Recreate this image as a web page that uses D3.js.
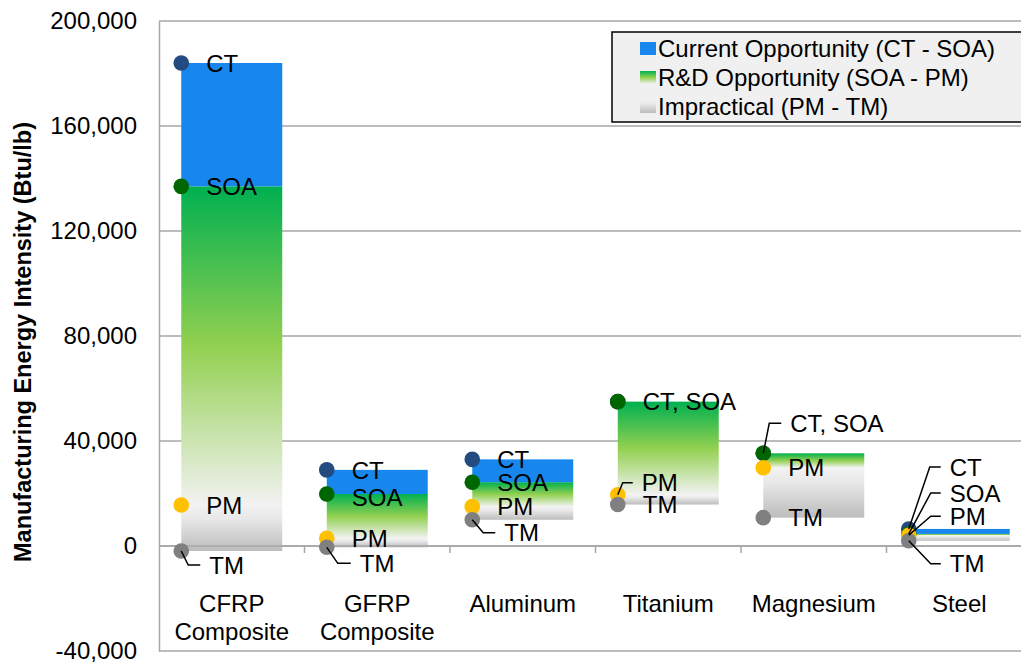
<!DOCTYPE html>
<html>
<head>
<meta charset="utf-8">
<script src="https://cdn.jsdelivr.net/npm/d3@7"></script>
<style>
  body { margin: 0; background: #fff; }
  svg text { font-family: "Liberation Sans", Arial, sans-serif; fill: #000; }
</style>
</head>
<body>
<svg id="chart" width="1021" height="665"></svg>
<script>
// data (Btu/lb)
const categories = ["CFRP Composite", "GFRP Composite", "Aluminum", "Titanium", "Magnesium", "Steel"];
const ct  = [184000, 29000, 33000, 55000, 35300, 6500];
const soa = [137000, 19800, 24300, 55000, 35300, 4600];
const pm  = [15600, 2900, 15000, 19500, 29800, 4100];
const tm  = [-1900, -500, 10000, 15800, 10800, 2000];
const yTicks = [-40000, 0, 40000, 80000, 120000, 160000, 200000];
const legendLabels = ["Current Opportunity (CT - SOA)", "R&D Opportunity (SOA - PM)", "Impractical (PM - TM)"];

// label placement, relative to each dot (px); leader = [bendX, bendY, endX]
const labelLayout = [
  [{k: "ct", t: "CT"}, {k: "soa", t: "SOA"}, {k: "pm", t: "PM"}, {k: "tm", t: "TM", leader: [7, 14, 19]}],
  [{k: "ct", t: "CT"}, {k: "soa", t: "SOA", dy: 3}, {k: "pm", t: "PM"}, {k: "tm", t: "TM", leader: [11, 16, 24]}],
  [{k: "ct", t: "CT"}, {k: "soa", t: "SOA"}, {k: "pm", t: "PM"}, {k: "tm", t: "TM", leader: [11, 13, 23]}],
  [{k: "soa", t: "CT, SOA"}, {k: "pm", t: "PM", leader: [5, -12, 15]}, {k: "tm", t: "TM"}],
  [{k: "soa", t: "CT, SOA", leader: [6, -30, 18]}, {k: "pm", t: "PM"}, {k: "tm", t: "TM"}],
  [{k: "ct", t: "CT", leader: [21, -62, 32]}, {k: "soa", t: "SOA", leader: [22, -41, 32]},
   {k: "pm", t: "PM", leader: [22, -19, 32]}, {k: "tm", t: "TM", leader: [22, 23, 32]}]
];

const series = {ct, soa, pm, tm};
const dotColor = {ct: "#244b80", soa: "#006600", pm: "#ffc000", tm: "#808080"};
const fs = 24;

const svg = d3.select("#chart");

const x = d3.scaleBand().domain(categories).range([159, 1032])
  .paddingInner(0.306).paddingOuter(0.153);
const y = d3.scaleLinear().domain([-40000, 200000]).range([651, 21]);

// gradients
const defs = svg.append("defs");
const green = defs.append("linearGradient").attr("id", "gGreen")
  .attr("x1", 0).attr("y1", 0).attr("x2", 0).attr("y2", 1);
green.append("stop").attr("offset", 0).attr("stop-color", "#00b050");
green.append("stop").attr("offset", 0.5).attr("stop-color", "#92d050");
green.append("stop").attr("offset", 1).attr("stop-color", "#f2f2f2");
const grey = defs.append("linearGradient").attr("id", "gGrey")
  .attr("x1", 0).attr("y1", 0).attr("x2", 0).attr("y2", 1);
grey.append("stop").attr("offset", 0).attr("stop-color", "#f2f2f2");
grey.append("stop").attr("offset", 0.3).attr("stop-color", "#e8e8e8");
grey.append("stop").attr("offset", 1).attr("stop-color", "#bcbcbc");

// gridlines
svg.append("g").selectAll("line").data(yTicks).join("line")
  .attr("x1", 159).attr("x2", 1032)
  .attr("y1", d => y(d)).attr("y2", d => y(d))
  .attr("stroke", "#a6a6a6").attr("stroke-width", 1.5);

// y axis (plain hyphen for negatives, like the original)
const fmt = d3.format(",");
const yAxis = svg.append("g").attr("transform", "translate(159,0)")
  .call(d3.axisLeft(y).tickValues(yTicks).tickFormat(d => fmt(d).replace("\u2212", "-"))
    .tickSize(0).tickPadding(22));
yAxis.select(".domain").attr("stroke", "#a6a6a6").attr("stroke-width", 1.5);
yAxis.selectAll("text").style("font-size", fs + "px").attr("fill", "#000");

svg.append("text")
  .attr("transform", "translate(31,342) rotate(-90)")
  .attr("text-anchor", "middle")
  .style("font-size", "23.5px").style("font-weight", "bold")
  .text("Manufacturing Energy Intensity (Btu/lb)");

// bars
const bw = x.bandwidth();
const bars = svg.append("g").selectAll("g").data(categories).join("g");
bars.append("rect").attr("x", d => x(d)).attr("width", bw)
  .attr("y", (d, i) => y(pm[i])).attr("height", (d, i) => y(tm[i]) - y(pm[i]))
  .attr("fill", "url(#gGrey)");
bars.append("rect").attr("x", d => x(d)).attr("width", bw)
  .attr("y", (d, i) => y(soa[i])).attr("height", (d, i) => y(pm[i]) - y(soa[i]))
  .attr("fill", "url(#gGreen)");
bars.append("rect").attr("x", d => x(d)).attr("width", bw)
  .attr("y", (d, i) => y(ct[i])).attr("height", (d, i) => y(soa[i]) - y(ct[i]))
  .attr("fill", "#1787ee");

// x axis at zero with ticks between categories
const x0 = y(0);
svg.append("line").attr("x1", 159).attr("x2", 1032).attr("y1", x0).attr("y2", x0)
  .attr("stroke", "#a6a6a6").attr("stroke-width", 1.5);
svg.append("g").selectAll("line").data(categories.slice(1)).join("line")
  .attr("x1", d => x(d) - x.step() * 0.153).attr("x2", d => x(d) - x.step() * 0.153)
  .attr("y1", x0).attr("y2", x0 + 7)
  .attr("stroke", "#a6a6a6").attr("stroke-width", 1.5);

// category labels
svg.append("g").selectAll("text").data(categories).join("text")
  .attr("x", d => x(d) + bw / 2).attr("y", 612)
  .attr("text-anchor", "middle").style("font-size", fs + "px")
  .each(function(d) {
    const parts = d.split(" ");
    d3.select(this).selectAll("tspan").data(parts).join("tspan")
      .attr("x", x(d) + bw / 2).attr("dy", (p, j) => j ? 28 : 0).text(p => p);
  });

// dots
const keys = ["ct", "soa", "pm", "tm"];
const dots = svg.append("g");
categories.forEach((c, i) => {
  keys.forEach(k => {
    dots.append("circle").attr("cx", x(c)).attr("cy", y(series[k][i]))
      .attr("r", 7.8).attr("fill", dotColor[k]);
  });
});

// data labels with leader lines
const labs = svg.append("g");
categories.forEach((c, i) => {
  labelLayout[i].forEach(l => {
    const px = x(c), py = y(series[l.k][i]);
    let tx = px + 25, ty = py + (l.dy || 0);
    if (l.leader) {
      const [bx, by, ex] = l.leader;
      labs.append("path")
        .attr("d", `M${px},${py}L${px + bx},${py + by}L${px + ex},${py + by}`)
        .attr("fill", "none").attr("stroke", "#000").attr("stroke-width", 1.5);
      tx = px + ex + 9; ty = py + by;
    }
    labs.append("text").attr("x", tx).attr("y", ty).attr("dy", "0.36em")
      .style("font-size", fs + "px").text(l.t);
  });
});

// legend
const lg = svg.append("g");
lg.append("rect").attr("x", 612).attr("y", 32).attr("width", 430).attr("height", 90)
  .attr("fill", "#f0f0f0").attr("stroke", "#000").attr("stroke-width", 1.5);
const swatchFill = ["#1787ee", "url(#gGreen)", "url(#gGrey)"];
legendLabels.forEach((t, j) => {
  const cy = 48.5 + j * 29;
  lg.append("rect").attr("x", 640).attr("y", cy - 6.5).attr("width", 16).attr("height", 13)
    .attr("fill", swatchFill[j]);
  lg.append("text").attr("x", 658).attr("y", cy).attr("dy", "0.36em")
    .style("font-size", fs + "px").text(t);
});
</script>
</body>
</html>
